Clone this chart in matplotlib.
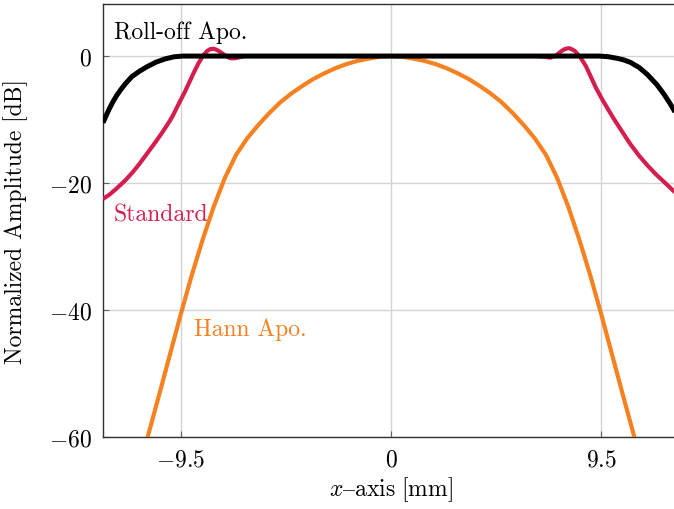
import matplotlib
matplotlib.use("Agg")
import matplotlib.pyplot as plt

plt.rcParams['font.family'] = ['cmr10', 'DejaVu Serif']
plt.rcParams['mathtext.fontset'] = 'cm'
plt.rcParams['axes.unicode_minus'] = False

# Roll-off apodization
x_roll = [-13.0, -12.85, -12.7, -12.55, -12.4, -12.2, -12.0, -11.7, -11.36, -11.0,
          -10.6, -10.2, -9.8, -9.4, -6.0, -3.0, 0.0, 3.0, 6.0,
          9.4, 9.8, 10.2, 10.5, 10.81, 11.2, 11.57, 12.0, 12.32, 12.6, 12.8, 13.0]
y_roll = [-10.5, -9.3, -8.2, -7.2, -6.3, -5.3, -4.4, -3.25, -2.4, -1.65,
          -0.95, -0.45, -0.12, 0.0, 0.0, 0.0, 0.0, 0.0, 0.0,
          0.0, -0.1, -0.35, -0.6, -1.0, -1.8, -2.9, -4.5, -6.0, -7.5, -8.7, -10.1]

# Standard
x_std = [-13.0, -12.7, -12.4, -12.0, -11.66, -11.36, -11.0, -10.6, -10.3, -10.0, -9.85,
         -9.55, -9.3, -9.1, -8.9, -8.7, -8.5, -8.3, -8.15, -8.0, -7.85, -7.65, -7.45,
         -7.25, -7.05, -6.85, -6.6, -3.0, 0.0, 3.0,
         6.6, 6.9, 7.19, 7.45, 7.7, 7.85, 8.02, 8.15, 8.3, 8.55, 8.8, 9.0, 9.25, 9.53,
         9.8, 10.06, 10.45, 10.81, 11.2, 11.57, 11.95, 12.32, 12.8, 13.0]
y_std = [-22.5, -21.8, -20.9, -19.6, -18.3, -17.0, -15.3, -13.4, -11.9, -10.3, -9.4,
         -7.3, -5.6, -4.1, -2.6, -1.2, 0.0, 0.8, 1.1, 1.15, 0.95, 0.5, 0.0,
         -0.35, -0.35, -0.2, 0.0, 0.0, 0.0, 0.0,
         0.0, -0.1, -0.25, 0.1, 0.8, 1.1, 1.25, 1.1, 0.8, -0.2, -1.6, -3.1, -5.0, -6.8,
         -8.4, -9.9, -12.0, -13.9, -15.7, -17.2, -18.6, -19.8, -21.4, -22.1]

# Hann apodization
x_hann = [-11.3, -11.0, -10.5, -10.0, -9.5, -9.0, -8.5, -8.0, -7.5, -7.0, -6.5, -6.0,
          -5.5, -5.0, -4.5, -4.0, -3.5, -3.0, -2.5, -2.0, -1.5, -1.0, -0.5, 0.0,
          0.5, 1.0, 1.5, 2.0, 2.5, 3.0, 3.5, 4.0, 4.5, 5.0, 5.5, 6.0, 6.5, 7.0,
          7.5, 8.0, 8.5, 9.0, 9.5, 10.0, 10.5, 11.0, 11.3]
y_hann = [-64.0, -60.2, -53.8, -47.3, -40.8, -34.6, -28.9, -23.7, -19.2, -15.6, -13.0,
          -10.9, -9.0, -7.3, -5.9, -4.7, -3.6, -2.7, -1.9, -1.25, -0.75, -0.4, -0.1, 0.0,
          -0.1, -0.4, -0.75, -1.25, -1.9, -2.7, -3.6, -4.7, -5.9, -7.3, -9.0, -10.9,
          -13.0, -15.6, -19.2, -23.7, -28.9, -34.6, -40.8, -47.3, -53.8, -60.2, -64.0]

x_ticks = [-9.5, 0, 9.5]
x_tick_labels = [r'$-9.5$', r'$0$', r'$9.5$']
y_ticks = [-60, -40, -20, 0]
y_tick_labels = [r'$-60$', r'$-40$', r'$-20$', r'$0$']

c_black = '#000000'
c_red = '#D41F4E'
c_orange = '#F68121'

FS = 17

fig = plt.figure(figsize=(6.74, 5.10), dpi=100)
ax = fig.add_axes([103 / 674, (510 - 438) / 510, (679 - 103) / 674, (438 - 5) / 510])

kw = dict(solid_capstyle='butt', solid_joinstyle='round')
ax.plot(x_hann, y_hann, color=c_orange, lw=3.0, zorder=3, **kw)
ax.plot(x_std, y_std, color=c_red, lw=3.0, zorder=4, **kw)
ax.plot(x_roll, y_roll, color=c_black, lw=3.6, zorder=5, **kw)

ax.set_xlim(-13, 13)
ax.set_ylim(-60, 8.2)
ax.set_xticks(x_ticks)
ax.set_xticklabels(x_tick_labels)
ax.set_yticks(y_ticks)
ax.set_yticklabels(y_tick_labels)
ax.tick_params(direction='in', length=4, width=0.8, color='#606060', labelsize=FS)
ax.tick_params(axis='x', pad=8)
ax.tick_params(axis='y', pad=8)
ax.grid(True, color='#d3d3d3', lw=1.0, zorder=0)
ax.set_axisbelow(True)
for s in ax.spines.values():
    s.set_linewidth(1.0)
    s.set_color('#303030')

ax.set_xlabel(r'$x\mathrm{–axis\ [mm]}$', fontsize=FS)
ax.set_ylabel('Normalized Amplitude [dB]', fontsize=FS)
ax.xaxis.set_label_coords(0.5, -0.085)
ax.yaxis.set_label_coords(-0.13, 0.5)

ax.text(-12.5, 3.9, 'Roll-off Apo.', color=c_black, fontsize=FS, va='center', ha='left')
ax.text(-12.5, -25.0, 'Standard', color=c_red, fontsize=FS, va='center', ha='left')
ax.text(-8.87, -43.0, 'Hann Apo.', color=c_orange, fontsize=FS, va='center', ha='left')

fig.savefig('out.png', dpi=100)
